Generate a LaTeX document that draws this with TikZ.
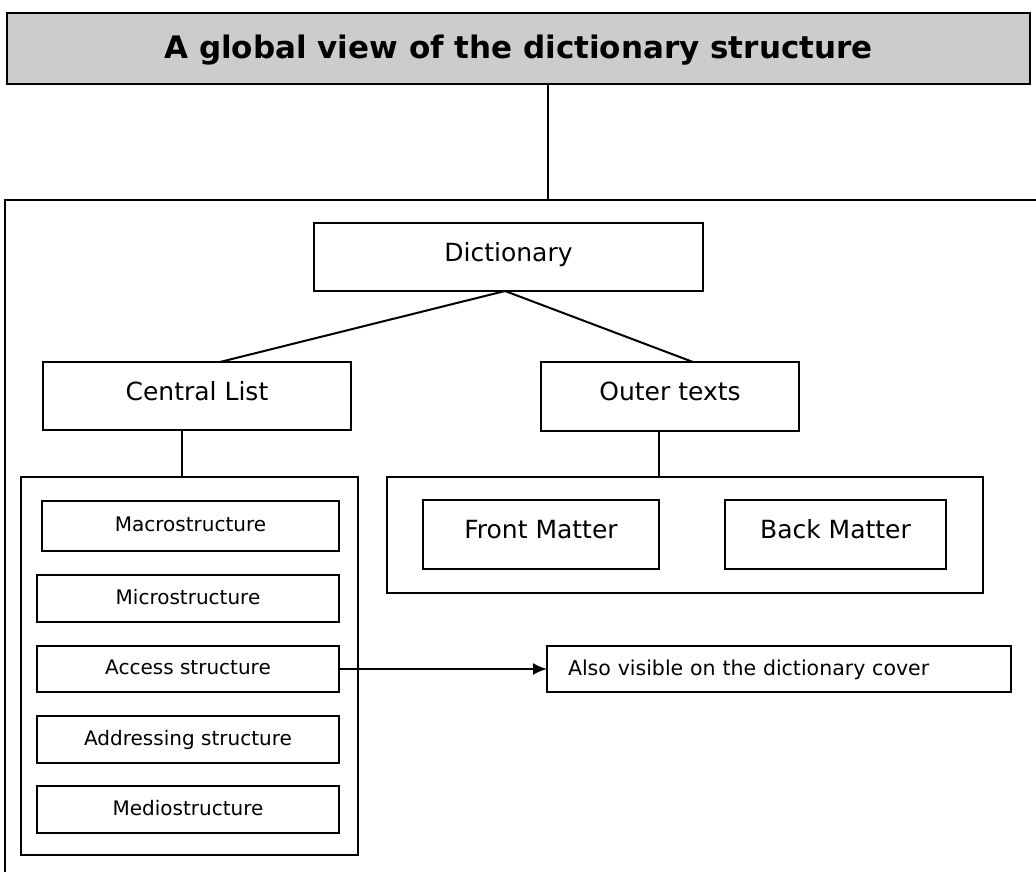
\documentclass[tikz,border=0pt]{standalone}
\usepackage{fontspec}
\setmainfont{DejaVu Sans}
\usetikzlibrary{arrows.meta}
\definecolor{titlegray}{RGB}{204,204,204}
\tikzset{
  box/.style={draw, line width=2pt, inner sep=0pt, outer sep=0pt, align=center},
  bigbox/.style={box, font=\fontsize{25}{28}\selectfont, text height=18pt, text depth=10pt},
  smallbox/.style={box, minimum width=302pt, minimum height=47pt,
    font=\fontsize{20}{24}\selectfont, text height=14.6pt, text depth=3pt},
  holder/.style={draw, line width=2pt, inner sep=0pt, outer sep=0pt},
  link/.style={line width=2pt},
  pointer/.style={line width=2pt, -{Latex[length=14pt,width=12pt]}}
}
\begin{document}
\begin{tikzpicture}[x=1pt,y=-1pt]
\useasboundingbox (0,0) rectangle (1036,872);

% heading bar
\node[box, fill=titlegray, line width=2.4pt, minimum width=1023pt, minimum height=71pt,
      font=\bfseries\fontsize{31}{35}\selectfont, text height=22.5pt, text depth=3pt]
  (title) at (518.5,48.5) {A global view of the dictionary structure};

% outer frame, running off the page to the right and bottom
\coordinate (frametop) at (548,200);
\coordinate (frameright) at (1036,200);
\coordinate (framecorner) at (5,200);
\coordinate (framebottom) at (5,872);
\draw[link] (frameright) -- (framecorner) -- (framebottom);
\draw[link] (title.south -| frametop) -- (frametop);

% top level
\node[bigbox, minimum width=389pt, minimum height=68pt] (dict) at (508.5,257) {Dictionary};
\node[bigbox, minimum width=308pt, minimum height=68pt] (central) at (197,396) {Central List};
\node[bigbox, minimum width=258pt, minimum height=69pt] (outer) at (670,396.5) {Outer texts};

\draw[link] ([xshift=-3.5pt]dict.south) -- ([xshift=23pt]central.north);
\draw[link] ([xshift=-3.5pt]dict.south) -- ([xshift=23pt]outer.north);

% central list contents
\node[holder, minimum width=337pt, minimum height=378pt] (listbox) at (189.5,666) {};
\node[smallbox, minimum width=297pt, minimum height=50pt] (macro) at (190.5,526) {Macrostructure};
\node[smallbox] (micro) at (188,598.5) {Microstructure};
\node[smallbox, minimum height=46pt] (access) at (188,669) {Access structure};
\node[smallbox] (addr) at (188,739.5) {Addressing structure};
\node[smallbox] (medio) at (188,809.5) {Mediostructure};

\coordinate (cl) at ([xshift=-15pt]central.south);
\draw[link] (cl) -- (cl |- listbox.north);

% outer texts contents
\node[holder, minimum width=596pt, minimum height=116pt] (outerbox) at (685,535) {};
\node[bigbox, minimum width=236pt, minimum height=69pt] (front) at (541,534.5) {Front Matter};
\node[bigbox, minimum width=221pt, minimum height=69pt] (back) at (835.5,534.5) {Back Matter};

\coordinate (ot) at ([xshift=-11pt]outer.south);
\draw[link] (ot) -- (ot |- outerbox.north);

% note on the access structure
\node[box, minimum width=464pt, minimum height=46pt, inner xsep=21pt,
      text width=422pt, align=left, font=\fontsize{20.5}{24}\selectfont,
      text height=15pt, text depth=3pt]
  (also) at (779,669) {Also visible on the dictionary cover};
\draw[pointer] (access.east) -- (also.west);
\end{tikzpicture}
\end{document}
